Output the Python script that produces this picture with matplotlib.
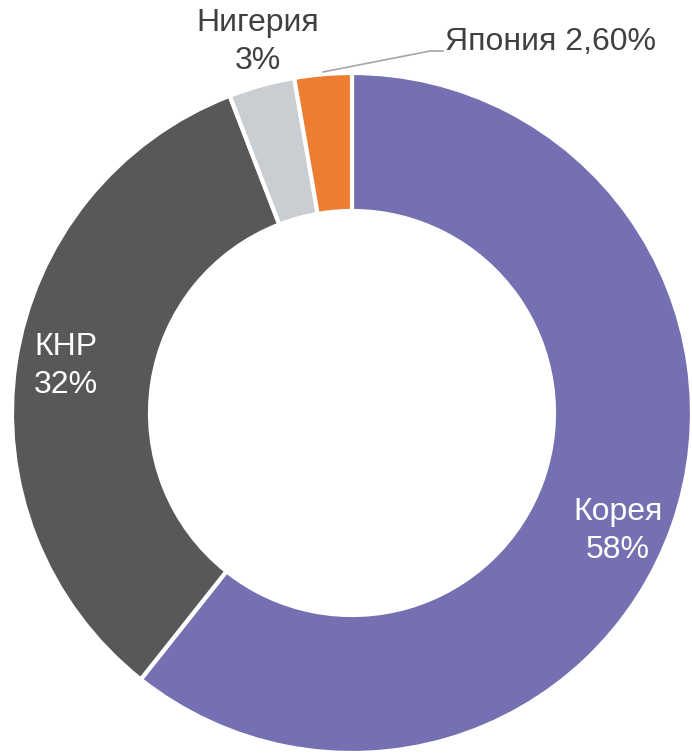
import matplotlib.pyplot as plt

# shares by country, as labelled on the chart
countries = ['Корея', 'КНР', 'Нигерия', 'Япония']
shares = [58, 32, 3, 2.6]
share_labels = ['58%', '32%', '3%', '2,60%']
colors = ['#7470B1', '#58585A', '#C9CED3', '#ED7D31']

plt.rcParams['font.family'] = ['Liberation Sans', 'DejaVu Sans']

fig = plt.figure(figsize=(6.92, 7.53), dpi=100)
ax = fig.add_axes([0, 0, 1, 1])

R = 340.0
ax.pie(shares, colors=colors, startangle=90, counterclock=False, radius=1,
       wedgeprops=dict(width=138 / R, edgecolor='white', linewidth=3))

ax.set_xlim(-352 / R, (692 - 352) / R)
ax.set_ylim(-(753 - 413) / R, 413 / R)
ax.set_aspect('equal')
ax.axis('off')


def px(x, y):
    return (x - 352) / R, (413 - y) / R


fs = 23
ls = 1.35
# labels inside the big wedges
ax.text(*px(618, 531), f'{countries[0]}\n{share_labels[0]}', color='white',
        fontsize=fs, ha='center', va='center', linespacing=ls)
ax.text(*px(66, 366), f'{countries[1]}\n{share_labels[1]}', color='white',
        fontsize=fs, ha='center', va='center', linespacing=ls)
# outside labels
ax.text(*px(258, 42), f'{countries[2]}\n{share_labels[2]}', color='#404040',
        fontsize=fs, ha='center', va='center', linespacing=ls)
ax.text(*px(445, 42), f'{countries[3]} {share_labels[3]}', color='#404040',
        fontsize=fs, ha='left', va='center')

lx, ly = zip(px(323, 72), px(430, 51), px(443, 51))
ax.plot(lx, ly, color='#A6A6A6', linewidth=1.2)

fig.savefig('out.png', dpi=100)
